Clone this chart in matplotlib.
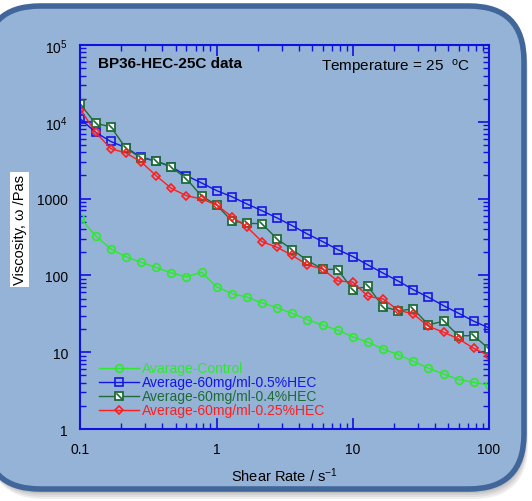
import numpy as np
import matplotlib
matplotlib.use('Agg')
import matplotlib.pyplot as plt
from matplotlib.patches import FancyBboxPatch
from matplotlib.path import Path
from matplotlib.ticker import FixedLocator, FixedFormatter, NullFormatter, LogLocator
from matplotlib.legend_handler import HandlerTuple

plt.rcParams['font.family'] = ['Liberation Sans', 'DejaVu Sans']
plt.rcParams['mathtext.fontset'] = 'custom'
plt.rcParams['mathtext.rm'] = 'Liberation Sans'
plt.rcParams['mathtext.it'] = 'Liberation Sans:italic'
plt.rcParams['mathtext.default'] = 'regular'

# Data (shear rate in 1/s, viscosity in Pa s)
shear_rate = [0.1, 0.129, 0.167, 0.215, 0.278, 0.359, 0.464, 0.599, 0.774,
              1.0, 1.29, 1.67, 2.15, 2.78, 3.59, 4.64, 5.99, 7.74,
              10, 12.9, 16.7, 21.5, 27.8, 35.9, 46.4, 59.9, 77.4, 100]

control = [554, 329, 221, 175, 149, 127, 108, 96, 110, 71, 58, 52, 44, 38,
           32, 26.5, 22.6, 19.3, 15.8, 13.5, 11.0, 9.3, 7.6, 6.2, 5.2, 4.4,
           4.06, 3.74]
hec_05 = [10870, 7300, 5540, 4600, 3480, 3060, 2600, 1990, 1600, 1270, 1060,
          851, 696, 559, 444, 346, 276, 217, 176, 137, 107, 84.5, 65.2, 51.9,
          40.3, 32.1, 25.3, 20.7]
hec_04 = [16800, 9550, 8610, 4560, 3380, 3110, 2580, 1820, 1080, 826, 511,
          477, 471, 298, 217, 156, 121, 119, 65.5, 72.1, 39.1, 34.7, 36.5,
          22.8, 25.3, 16.4, 16.4, 11.0]
hec_025 = [14450, 7300, 4470, 3930, 3020, 1990, 1360, 1090, 988, 826, 581,
           427, 275, 232, 182, 137, 121, 84.5, 82, 53.4, 49.3, 35.4, 31.4,
           21.7, 18.2, 14.9, 11.2, 9.0]

labels = ['Avarage-Control', 'Average-60mg/ml-0.5%HEC',
          'Average-60mg/ml-0.4%HEC', 'Average-60mg/ml-0.25%HEC']
colors = ['#2ee82e', '#1515e6', '#1d6b38', '#ff1e1e']

y_ticks = [1, 10, 100, 1000, 1e4, 1e5]
y_ticklabels = ['1', '10', '100', '1000', '10$^4$', '10$^5$']
x_ticks = [0.1, 1, 10, 100]
x_ticklabels = ['0.1', '1', '10', '100']

fig = plt.figure(figsize=(5.32, 5.02), dpi=100)
fig.patch.set_facecolor('white')

# rounded panel with a soft shadow
tr = fig.dpi_scale_trans
for i, a in enumerate([0.10, 0.10, 0.12, 0.15]):
    off = 0.10 - i * 0.02
    fig.patches.append(FancyBboxPatch((-0.15 + off * 0.4, 0.12 - off), 5.39, 4.83,
                                      boxstyle='round,pad=0,rounding_size=0.55',
                                      fc='#606060', ec='none', alpha=a,
                                      transform=tr, zorder=-10))
fig.patches.append(FancyBboxPatch((-0.15, 0.12), 5.39, 4.83,
                                  boxstyle='round,pad=0,rounding_size=0.55',
                                  fc='#95b3d7', ec='#41679a', lw=4,
                                  transform=tr, zorder=-5))

ax = fig.add_axes([0.1513, 0.1434, 0.7679, 0.7650])
ax.set_facecolor('none')
ax.set_xscale('log')
ax.set_yscale('log')
ax.set_xlim(0.1, 100)
ax.set_ylim(1, 1e5)

l1, = ax.plot(shear_rate, control, '-o', color=colors[0], ms=5.5, mfc='none',
              mew=1.2, lw=1)
l2, = ax.plot(shear_rate, hec_05, '-s', color=colors[1], ms=5.5, mfc='none',
              mew=1.2, lw=1)
l3, = ax.plot(shear_rate, hec_04, '-s', color=colors[2], ms=6, mfc='white',
              mew=1.3, lw=1)
diag = Path([(-1, 1), (1, -1)], [Path.MOVETO, Path.LINETO])
l3b, = ax.plot(shear_rate, hec_04, ls='none', marker=diag, ms=4.5,
               mec=colors[2], mew=1.2)
l4, = ax.plot(shear_rate, hec_025, '-D', color=colors[3], ms=4.5, mfc='none',
              mew=1.2, lw=1)

for s in ax.spines.values():
    s.set_color('#1010e0')
    s.set_linewidth(1.5)

ax.xaxis.set_major_locator(FixedLocator(x_ticks))
ax.xaxis.set_major_formatter(FixedFormatter(x_ticklabels))
ax.yaxis.set_major_locator(FixedLocator(y_ticks))
ax.yaxis.set_major_formatter(FixedFormatter(y_ticklabels))
ax.xaxis.set_minor_locator(LogLocator(subs=np.arange(2, 10)))
ax.yaxis.set_minor_locator(LogLocator(subs=np.arange(2, 10)))
ax.xaxis.set_minor_formatter(NullFormatter())
ax.yaxis.set_minor_formatter(NullFormatter())
ax.tick_params(which='both', direction='in', top=True, right=True,
               color='#1010e0', labelsize=10, pad=9)
ax.tick_params(which='major', length=8, width=1.2)
ax.tick_params(which='minor', length=4, width=1)

ax.set_xlabel('Shear Rate / s$^{-1}$', fontsize=10.5, labelpad=7)
ax.set_ylabel('Viscosity, ω /Pas', fontsize=10.5,
              bbox=dict(fc='white', ec='none', pad=2))
ax.yaxis.label.set_va('center')
ax.yaxis.set_label_coords(-0.149, 0.52)

ax.text(0.043, 0.953, 'BP36-HEC-25C data', transform=ax.transAxes,
        fontsize=11, fontweight='bold', va='center', ha='left')
ax.text(0.953, 0.943, 'Temperature = 25  $^{o}$C', transform=ax.transAxes,
        fontsize=11, va='center', ha='right')

leg = ax.legend([l1, l2, (l3, l3b), l4], labels, loc='lower left',
                bbox_to_anchor=(0.045, 0.03), frameon=False, fontsize=10,
                handlelength=2.9, handletextpad=0.2, labelspacing=0.0,
                borderpad=0, borderaxespad=0,
                handler_map={tuple: HandlerTuple(ndivide=1)})
for t, c in zip(leg.get_texts(), colors):
    t.set_color(c)

fig.savefig('out.png', dpi=100)
